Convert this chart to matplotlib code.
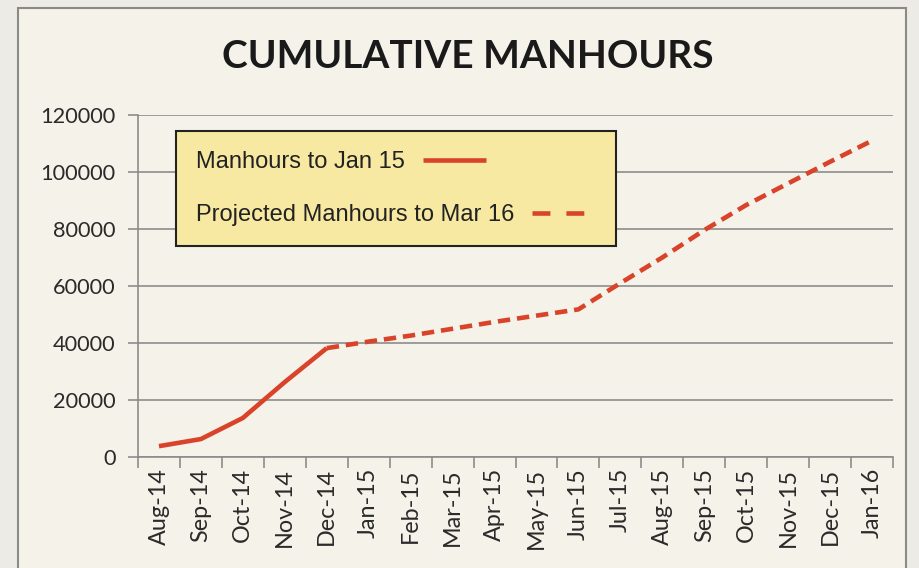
import matplotlib
matplotlib.use("Agg")
import matplotlib.pyplot as plt
from matplotlib.patches import Rectangle
from matplotlib.lines import Line2D

# data
months = ['Aug-14', 'Sep-14', 'Oct-14', 'Nov-14', 'Dec-14', 'Jan-15', 'Feb-15',
          'Mar-15', 'Apr-15', 'May-15', 'Jun-15', 'Jul-15', 'Aug-15', 'Sep-15',
          'Oct-15', 'Nov-15', 'Dec-15', 'Jan-16']
actual = [3800, 6300, 13700, 26300, 38200]
projected = [38200, 40500, 42600, 45000, 47400, 49600, 51800, 61000, 70000,
             79600, 88400, 96000, 103600, 111000]
ticks_y = [0, 20000, 40000, 60000, 80000, 100000, 120000]

red = '#d8432a'
cream = '#f5f2ea'
grey = '#8c8c8c'

fig = plt.figure(figsize=(9.19, 5.68), dpi=100)
fig.patch.set_facecolor('#ecebe6')
# chart frame
fig.patches.append(Rectangle((18/919, -0.01), (906-18)/919, 1-8/568+0.01,
                             transform=fig.transFigure, facecolor=cream,
                             edgecolor='#8a8a88', lw=1.5, zorder=-10))

ax = fig.add_axes([138/919, 1-457/568, (893-138)/919, (457-115)/568])
ax.set_facecolor('none')

x_act = list(range(len(actual)))
x_proj = list(range(len(actual)-1, len(actual)-1+len(projected)))
ax.plot(x_act, actual, color=red, lw=3.3, solid_capstyle='butt')
ax.plot(x_proj, projected, color=red, lw=3.3, dashes=(2.7, 1.5))

ax.set_xlim(-0.5, len(months)-0.5)
ax.set_ylim(0, 120000)
ax.set_yticks(ticks_y)
ax.set_yticklabels([str(t) for t in ticks_y], fontsize=15.7,
                   family='Lato', color='#2a2a2a')
ax.yaxis.grid(True, color=grey, lw=1.2)
ax.set_axisbelow(True)

ax.set_xticks(range(len(months)))
ax.set_xticklabels(months, rotation=90, fontsize=16.8, family='Lato',
                   color='#2a2a2a')
ax.set_xticks([i - 0.5 for i in range(len(months)+1)], minor=True)
ax.tick_params(axis='x', which='major', length=0, pad=8)
ax.tick_params(axis='x', which='minor', length=8, color=grey, width=1.2)
ax.tick_params(axis='y', length=7, color=grey, width=1.2, pad=9)

for s in ['top', 'right']:
    ax.spines[s].set_visible(False)
for s in ['left', 'bottom']:
    ax.spines[s].set_color(grey)
    ax.spines[s].set_linewidth(1.2)

handles = [Line2D([], [], color=red, lw=3.3, solid_capstyle='butt'),
           Line2D([], [], color=red, lw=3.3, dashes=(3.9, 3.5))]
labels = ['Manhours to Jan 15', 'Projected Manhours to Mar 16']
leg = ax.legend(handles, labels, loc='upper left',
                bbox_to_anchor=(176/919, 1-131/568),
                bbox_transform=fig.transFigure, borderaxespad=0,
                markerfirst=False, fancybox=False, framealpha=1,
                facecolor='#f7e9a2', edgecolor='#222222',
                prop={'family': 'Liberation Sans', 'size': 17},
                handlelength=2.7, handletextpad=0.75, labelspacing=1.3,
                borderpad=0.85)
leg.get_frame().set_linewidth(1.5)
# keep the text flush left, sample line right after it
for col in leg._legend_handle_box.get_children():
    col.align = 'left'
for t in leg.get_texts():
    t.set_color('#222222')

fig.text(468/919, 1-56/568, 'CUMULATIVE MANHOURS', ha='center', va='center',
         fontsize=28, fontweight='bold', family='Lato', color='#1a1a1a')

fig.savefig('out.png', dpi=100, facecolor=fig.get_facecolor())
